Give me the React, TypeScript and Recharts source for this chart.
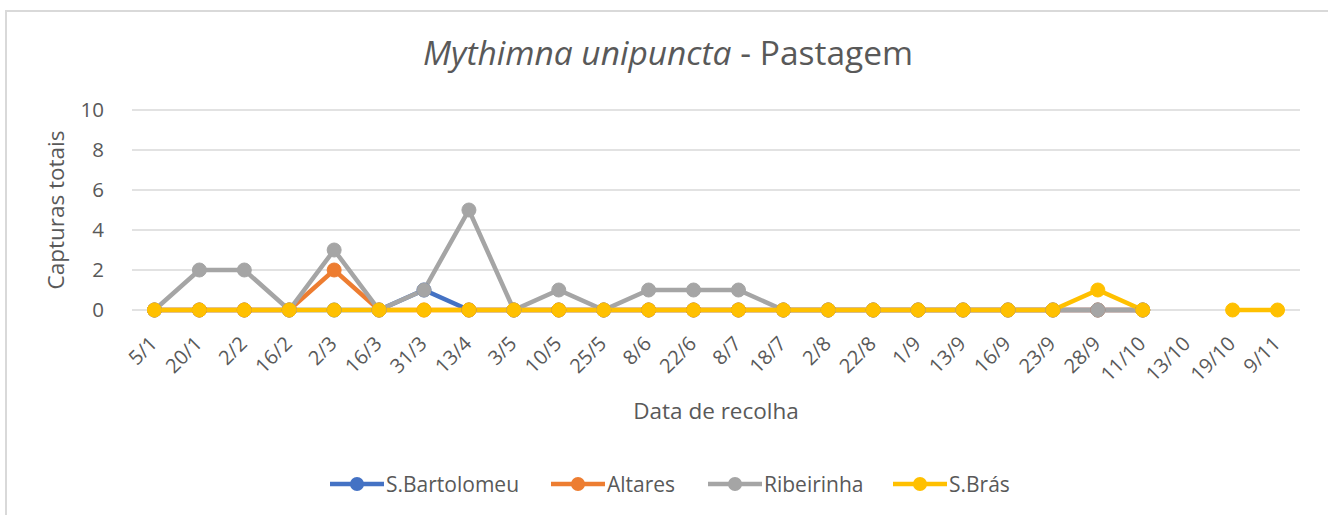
import React from "react";
import { CartesianGrid, Line, LineChart, XAxis, YAxis } from "recharts";

const dates = [
  "5/1", "20/1", "2/2", "16/2", "2/3", "16/3", "31/3", "13/4", "3/5", "10/5",
  "25/5", "8/6", "22/6", "8/7", "18/7", "2/8", "22/8", "1/9", "13/9", "16/9",
  "23/9", "28/9", "11/10", "13/10", "19/10", "9/11",
];

type V = number | null;

const sBartolomeu: V[] = [
  0, 0, 0, 0, 0, 0, 1, 0, 0, 0, 0, 0, 0, 0, 0, 0, 0, 0, 0, 0, 0, 0, 0, null, null, null,
];
const altares: V[] = [
  0, 0, 0, 0, 2, 0, 0, 0, 0, 0, 0, 0, 0, 0, 0, 0, 0, 0, 0, 0, 0, 0, 0, null, null, null,
];
const ribeirinha: V[] = [
  0, 2, 2, 0, 3, 0, 1, 5, 0, 1, 0, 1, 1, 1, 0, 0, 0, 0, 0, 0, 0, 0, 0, null, null, null,
];
const sBras: V[] = [
  0, 0, 0, 0, 0, 0, 0, 0, 0, 0, 0, 0, 0, 0, 0, 0, 0, 0, 0, 0, 0, 1, 0, null, 0, 0,
];

const yTicks = [0, 2, 4, 6, 8, 10];

const series = [
  { key: "sBartolomeu", name: "S.Bartolomeu", color: "#4472C4", left: 330 },
  { key: "altares", name: "Altares", color: "#ED7D31", left: 551 },
  { key: "ribeirinha", name: "Ribeirinha", color: "#A5A5A5", left: 708 },
  { key: "sBras", name: "S.Brás", color: "#FFC000", left: 893 },
];

const data = dates.map((d, i) => ({
  date: d,
  sBartolomeu: sBartolomeu[i],
  altares: altares[i],
  ribeirinha: ribeirinha[i],
  sBras: sBras[i],
}));

const FONT = "'Open Sans', Lato, sans-serif";
const TEXT = "#595959";

function XTick({ x, y, payload }: any) {
  const ax = x + 4;
  const ay = y + 35;
  return (
    <text
      x={ax}
      y={ay}
      transform={`rotate(-45, ${ax}, ${ay})`}
      textAnchor="end"
      fontSize={20}
      fontFamily={FONT}
      fill={TEXT}
    >
      {payload.value}
    </text>
  );
}

function LegendRow() {
  return (
    <>
      {series.map((s) => (
        <div
          key={s.key}
          style={{
            position: "absolute",
            left: s.left,
            top: 470,
            display: "flex",
            alignItems: "center",
            fontFamily: FONT,
            fontSize: 21,
            color: TEXT,
          }}
        >
          <svg width={54} height={26}>
            <line x1={0} y1={13} x2={54} y2={13} stroke={s.color} strokeWidth={4.5} />
            <circle cx={27} cy={13} r={7} fill={s.color} />
          </svg>
          <span style={{ marginLeft: 2 }}>{s.name}</span>
        </div>
      ))}
    </>
  );
}

export default function App() {
  return (
    <div
      style={{
        position: "fixed",
        left: 0,
        top: 0,
        width: 1328,
        height: 515,
        overflow: "hidden",
        background: "#fff",
      }}
    >
      <div
        style={{
          position: "absolute",
          left: 5,
          top: 10,
          width: 1340,
          height: 530,
          borderLeft: "2px solid #d9d9d9",
          borderTop: "2px solid #d9d9d9",
        }}
      />
      <svg style={{ position: "absolute", left: 0, top: 0 }} width={1328} height={100}>
        <text x={668} y={65} textAnchor="middle" fontSize={33.5} fontFamily={FONT} fill={TEXT}>
          <tspan fontStyle="italic">Mythimna unipuncta</tspan>
          <tspan> - Pastagem</tspan>
        </text>
      </svg>
      <div style={{ position: "absolute", left: 0, top: 0 }}>
        <LineChart
          width={1328}
          height={515}
          data={data}
          margin={{ top: 110, right: 28, left: 0, bottom: 95 }}
        >
          <CartesianGrid vertical={false} stroke="#d9d9d9" strokeWidth={1.5} />
          <XAxis
            dataKey="date"
            height={110}
            interval={0}
            padding={{ left: 22.46, right: 22.46 }}
            tickLine={false}
            tickSize={0}
            tickMargin={0}
            axisLine={false}
            tick={<XTick />}
            label={{
              content: ({ viewBox }: any) => (
                <text
                  x={viewBox.x + viewBox.width / 2}
                  y={419}
                  textAnchor="middle"
                  fontSize={22.5}
                  fontFamily={FONT}
                  fill={TEXT}
                >
                  Data de recolha
                </text>
              ),
            }}
          />
          <YAxis
            width={132}
            domain={[0, 10]}
            ticks={yTicks}
            axisLine={false}
            tickLine={false}
            tickSize={0}
            tickMargin={28}
            tick={{ fontSize: 20.5, fontFamily: FONT, fill: TEXT }}
            label={{
              content: ({ viewBox }: any) => {
                const cy = viewBox.y + viewBox.height / 2;
                return (
                  <text
                    x={64}
                    y={cy}
                    transform={`rotate(-90, 64, ${cy})`}
                    textAnchor="middle"
                    fontSize={22.5}
                    fontFamily={FONT}
                    fill={TEXT}
                  >
                    Capturas totais
                  </text>
                );
              },
            }}
          />
          {series.map((s) => (
            <Line
              key={s.key}
              type="linear"
              dataKey={s.key}
              name={s.name}
              stroke={s.color}
              strokeWidth={4.5}
              dot={{ r: 7, fill: s.color, stroke: s.color, strokeWidth: 1 }}
              activeDot={false}
              isAnimationActive={false}
            />
          ))}
        </LineChart>
      </div>
      <LegendRow />
    </div>
  );
}
